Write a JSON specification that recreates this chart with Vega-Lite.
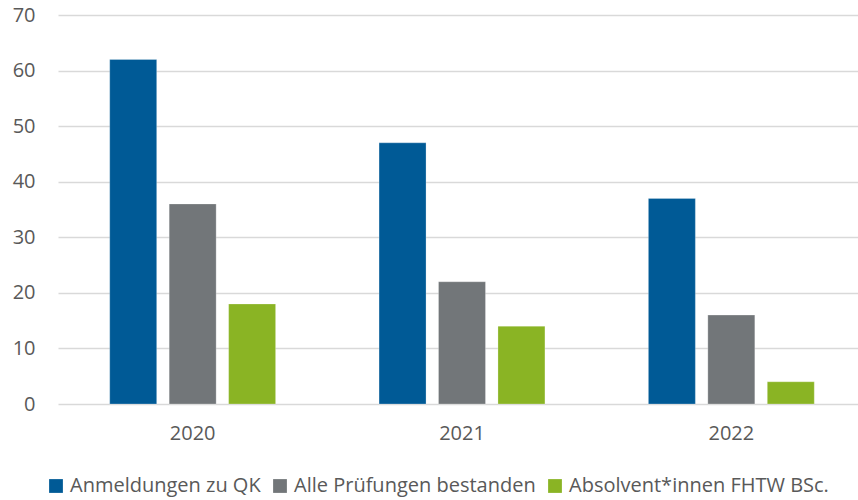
{
  "$schema": "https://vega.github.io/schema/vega-lite/v6.json",
  "width": 808,
  "height": 389,
  "autosize": {"type": "none"},
  "padding": {"left": 58, "top": 15, "right": 0, "bottom": 96},
  "background": "white",
  "config": {
    "font": "Open Sans",
    "view": {"stroke": null}
  },
  "data": {
    "values": [
      {"Jahr": "2020", "Kategorie": "Anmeldungen zu QK", "Wert": 62},
      {"Jahr": "2020", "Kategorie": "Alle Prüfungen bestanden", "Wert": 36},
      {"Jahr": "2020", "Kategorie": "Absolvent*innen FHTW BSc.", "Wert": 18},
      {"Jahr": "2021", "Kategorie": "Anmeldungen zu QK", "Wert": 47},
      {"Jahr": "2021", "Kategorie": "Alle Prüfungen bestanden", "Wert": 22},
      {"Jahr": "2021", "Kategorie": "Absolvent*innen FHTW BSc.", "Wert": 14},
      {"Jahr": "2022", "Kategorie": "Anmeldungen zu QK", "Wert": 37},
      {"Jahr": "2022", "Kategorie": "Alle Prüfungen bestanden", "Wert": 16},
      {"Jahr": "2022", "Kategorie": "Absolvent*innen FHTW BSc.", "Wert": 4}
    ]
  },
  "mark": {"type": "bar", "stroke": "#FFFFFF", "strokeOpacity": 0.25, "strokeWidth": 1},
  "encoding": {
    "x": {
      "field": "Jahr",
      "type": "nominal",
      "scale": {"paddingInner": 0, "paddingOuter": 0},
      "axis": {
        "title": null,
        "labelAngle": 0,
        "labelFontSize": 20,
        "labelColor": "#595959",
        "labelPadding": 19,
        "ticks": false,
        "domain": false,
        "grid": false
      }
    },
    "xOffset": {
      "field": "Kategorie",
      "type": "nominal",
      "sort": ["Anmeldungen zu QK", "Alle Prüfungen bestanden", "Absolvent*innen FHTW BSc."],
      "scale": {"paddingInner": 0.21, "paddingOuter": 0.87}
    },
    "y": {
      "field": "Wert",
      "type": "quantitative",
      "scale": {"domain": [0, 70], "nice": false},
      "axis": {
        "title": null,
        "values": [0, 10, 20, 30, 40, 50, 60, 70],
        "labelFontSize": 20,
        "labelColor": "#595959",
        "labelPadding": 23,
        "ticks": false,
        "domain": false,
        "gridColor": "#D9D9D9",
        "gridWidth": 1.5
      }
    },
    "color": {
      "field": "Kategorie",
      "type": "nominal",
      "sort": ["Anmeldungen zu QK", "Alle Prüfungen bestanden", "Absolvent*innen FHTW BSc."],
      "scale": {
        "domain": ["Anmeldungen zu QK", "Alle Prüfungen bestanden", "Absolvent*innen FHTW BSc."],
        "range": ["#005A96", "#727679", "#8AB424"]
      },
      "legend": {
        "title": null,
        "orient": "none",
        "direction": "horizontal",
        "legendX": -12,
        "legendY": 461,
        "symbolType": "square",
        "symbolSize": 190,
        "symbolStrokeWidth": 0,
        "symbolOpacity": 1,
        "labelFontSize": 20,
        "labelColor": "#595959",
        "labelOffset": 4,
        "columnPadding": 9,
        "labelLimit": 400
      }
    }
  }
}
